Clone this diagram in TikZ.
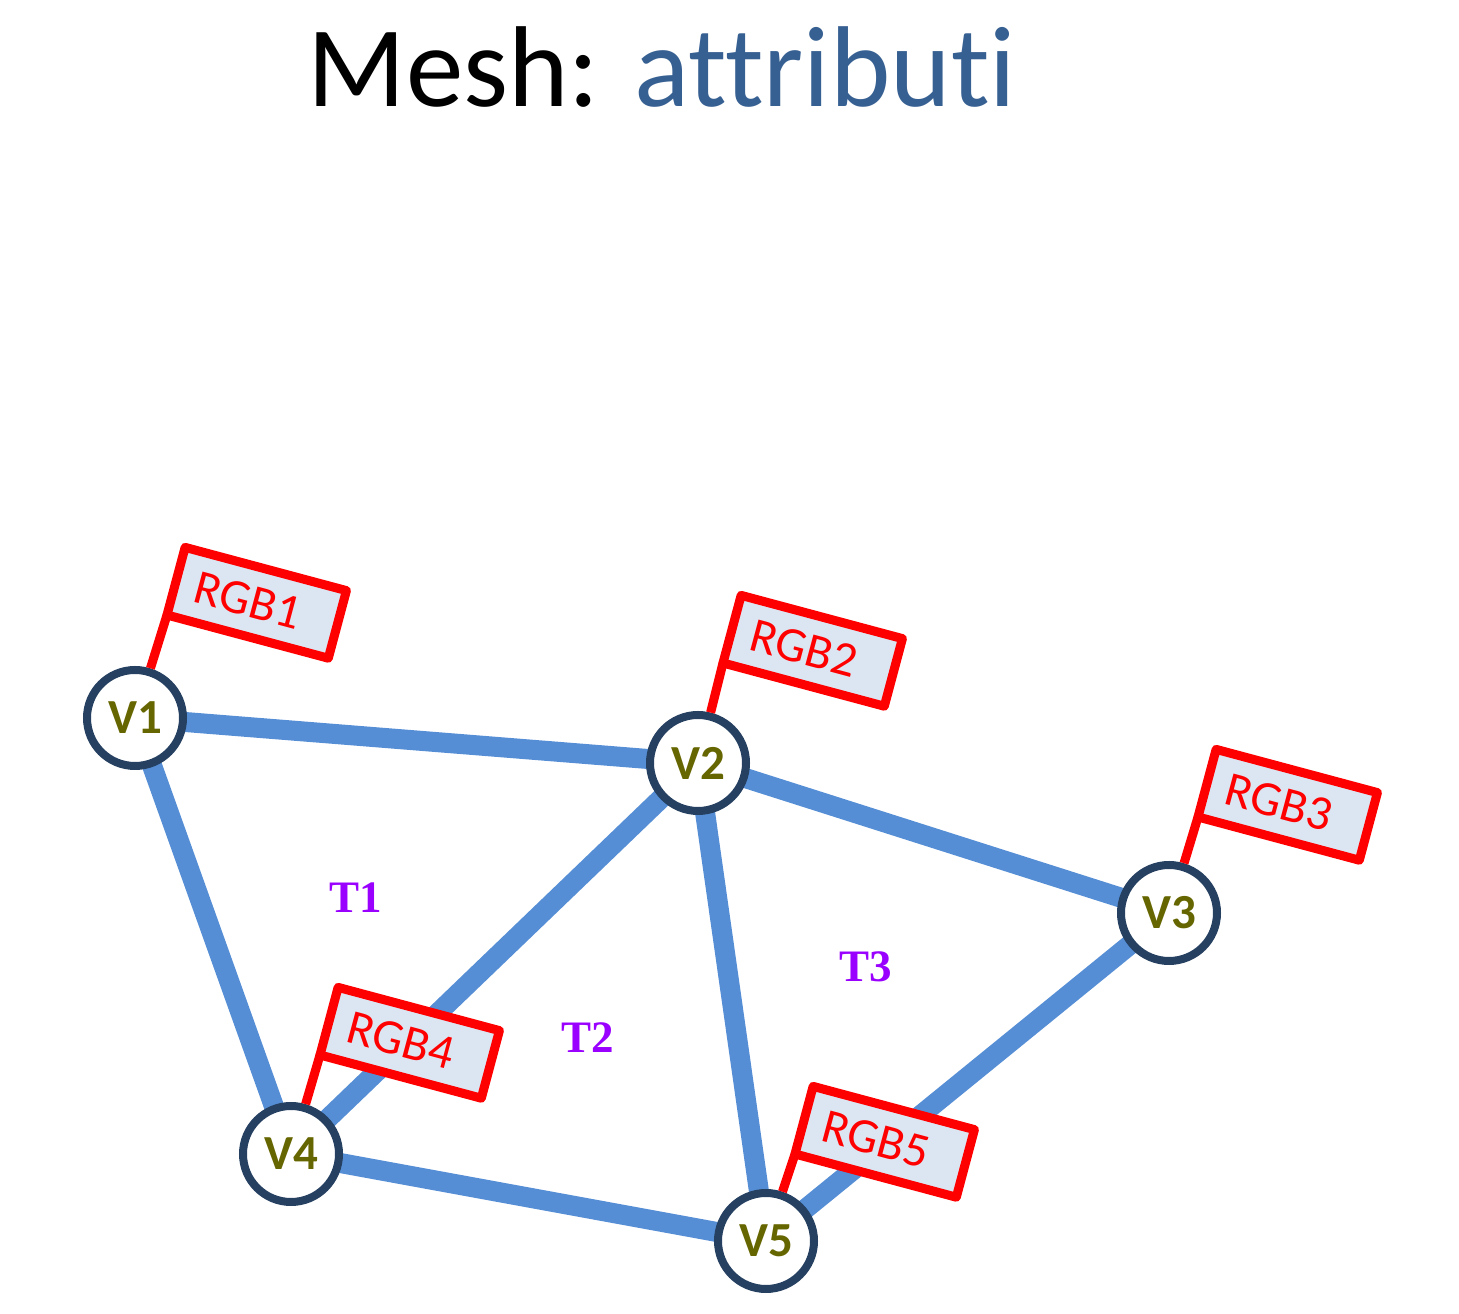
\documentclass[tikz,border=0pt]{standalone}
\usepackage{fontspec}
\setmainfont{Carlito}[Ligatures={NoCommon}]
\newfontfamily\trifont{Liberation Serif}
\usepackage{tikz}
\usetikzlibrary{positioning,backgrounds}
\definecolor{meshblue}{HTML}{558ED5}
\definecolor{meshnavy}{HTML}{254061}
\definecolor{mesholive}{HTML}{666600}
\definecolor{meshred}{HTML}{FF0000}
\definecolor{meshflag}{HTML}{DCE6F2}
\definecolor{meshpurple}{HTML}{9900FF}
\definecolor{meshtitle}{HTML}{376092}

\begin{document}
\begin{tikzpicture}[
  x=1pt,y=1pt,
  vtx/.style={circle,draw=meshnavy,line width=8pt,fill=white,minimum size=96pt,inner sep=0pt,text=mesholive,font=\fontsize{49}{49}\selectfont\bfseries},
  flag/.style={draw=meshred,fill=meshflag,line width=9pt,line join=round,rotate=-15,minimum width=167pt,minimum height=70pt,inner sep=0pt,outer sep=0pt,text=meshred,font=\fontsize{49}{49}\selectfont,execute at end node=\hspace*{18pt}},
  pole/.style={draw=meshred,line width=9pt},
  face/.style={inner sep=0pt,text=meshpurple,font=\trifont\bfseries\fontsize{45}{45}\selectfont},
  meshline/.style={draw=meshblue,line width=20pt}
]
\useasboundingbox (0,0) rectangle (1459,1314);
\node[anchor=base,font=\fontsize{115}{115}\selectfont] (title) at (662,1207) {Mesh: \textcolor{meshtitle}{attributi}};
% vertices
\node[vtx] (v1) at (135,596) {V1};
\node[vtx] (v2) at (698,551) {V2};
\node[vtx] (v3) at (1169,401) {V3};
\node[vtx] (v4) at (291,160) {V4};
\node[vtx] (v5) at (766,73) {V5};
% mesh edges, behind the vertices
\begin{pgfonlayer}{background}
\draw[meshline] (v1.center) -- (v2.center);
\draw[meshline] (v1.center) -- (v4.center);
\draw[meshline] (v2.center) -- (v4.center);
\draw[meshline] (v2.center) -- (v5.center);
\draw[meshline] (v2.center) -- (v3.center);
\draw[meshline] (v3.center) -- (v5.center);
\draw[meshline] (v4.center) -- (v5.center);
\end{pgfonlayer}
% triangles
\node[face] (t1) at (356,416) {T1};
\node[face] (t2) at (588,276) {T2};
\node[face] (t3) at (866,347) {T3};
% colour flags
\node[flag,above right=103pt and 32pt of v1.center] (f1) {RGB1};
\node[flag,above right=100pt and 25pt of v2.center] (f2) {RGB2};
\node[flag,above right=96pt and 29pt of v3.center] (f3) {RGB3};
\node[flag,above right=99pt and 29pt of v4.center] (f4) {RGB4};
\node[flag,above right=87pt and 29pt of v5.center] (f5) {RGB5};
\draw[pole] (f1.south west) -- (v1);
\draw[pole] (f2.south west) -- (v2);
\draw[pole] (f3.south west) -- (v3);
\draw[pole] (f4.south west) -- (v4);
\draw[pole] (f5.south west) -- (v5);
\end{tikzpicture}
\end{document}
